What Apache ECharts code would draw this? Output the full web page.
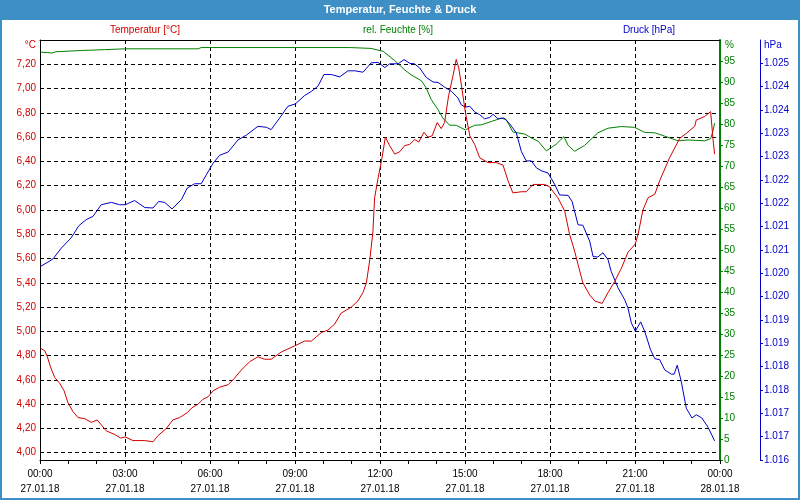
<!DOCTYPE html>
<html>
<head>
<meta charset="utf-8">
<script src="https://cdn.jsdelivr.net/npm/echarts@6/dist/echarts.min.js"></script>
<style>html,body{margin:0;padding:0;background:#fff}#c{width:800px;height:500px}</style>
</head>
<body>
<div id="c"></div>
<script>
// ---- data (hours since 27.01.18 00:00) ----
const tempHours = [0.02,0.17,0.26,0.38,0.52,0.70,0.85,0.99,1.16,1.34,1.58,1.81,2.02,2.16,2.34,2.64,2.85,3.01,3.28,3.70,3.99,4.16,4.46,4.69,4.93,5.20,5.36,5.58,5.75,5.93,6.11,6.34,6.64,6.85,7.10,7.40,7.69,7.93,8.16,8.52,8.99,9.34,9.58,9.93,10.16,10.40,10.63,10.99,11.22,11.40,11.52,11.64,11.75,11.81,11.93,12.05,12.19,12.34,12.52,12.70,12.87,13.05,13.22,13.37,13.55,13.69,13.84,14.02,14.16,14.28,14.42,14.58,14.69,14.78,14.89,15.01,15.17,15.34,15.52,15.81,16.10,16.34,16.52,16.69,16.99,17.16,17.40,17.81,17.99,18.11,18.28,18.52,18.69,18.87,18.99,19.16,19.40,19.58,19.84,20.05,20.28,20.52,20.75,21.01,21.11,21.28,21.46,21.70,21.87,22.22,22.58,22.81,23.11,23.16,23.46,23.67,23.75,23.81];
const tempValues = [4.86,4.84,4.79,4.70,4.62,4.57,4.51,4.41,4.34,4.29,4.28,4.25,4.27,4.23,4.18,4.15,4.12,4.13,4.10,4.10,4.09,4.14,4.20,4.27,4.29,4.33,4.37,4.40,4.44,4.46,4.51,4.54,4.56,4.61,4.68,4.75,4.79,4.77,4.77,4.83,4.88,4.92,4.92,4.99,5.01,5.06,5.15,5.20,5.25,5.32,5.40,5.59,5.82,6.10,6.26,6.40,6.60,6.53,6.46,6.48,6.53,6.54,6.58,6.56,6.64,6.60,6.61,6.72,6.67,6.72,6.94,7.11,7.24,7.17,7.00,6.81,6.61,6.54,6.43,6.39,6.39,6.37,6.24,6.14,6.15,6.15,6.21,6.21,6.19,6.15,6.10,5.99,5.80,5.66,5.55,5.40,5.30,5.25,5.23,5.32,5.41,5.52,5.65,5.72,5.80,6.00,6.10,6.13,6.24,6.43,6.59,6.63,6.69,6.74,6.77,6.81,6.59,6.46];

const humHours = [0.02,0.28,0.42,0.56,1.46,2.28,2.99,5.58,5.69,10.93,10.99,11.68,12.11,12.17,12.52,12.87,13.10,13.46,13.63,13.81,14.05,14.22,14.46,14.69,15.01,15.34,15.58,15.93,16.28,16.46,16.69,17.11,17.34,17.58,17.87,18.11,18.22,18.49,18.64,18.87,19.22,19.69,20.05,20.52,20.99,21.34,21.70,22.05,22.52,22.87,23.46,23.67,23.75,23.81];
const humValues = [97.1,97.0,96.9,97.2,97.5,97.7,97.9,97.9,98.2,98.2,97.9,98.0,97.3,96.9,95.1,92.9,91.7,90.3,88.6,85.8,83.4,81.4,79.7,79.7,78.6,79.7,79.8,80.6,81.4,81.0,78.1,77.6,76.7,75.9,73.6,74.7,75.2,77.0,74.9,73.5,74.9,77.9,79.0,79.4,79.2,78.0,77.9,77.1,76.0,76.2,76.0,76.5,78.3,80.2];

const presHours = [0.02,0.28,0.46,0.75,1.10,1.37,1.63,1.87,2.16,2.52,2.81,3.01,3.34,3.70,3.99,4.19,4.40,4.66,4.99,5.20,5.46,5.69,5.87,6.11,6.34,6.64,6.99,7.28,7.69,7.99,8.16,8.46,8.75,9.01,9.34,9.58,9.81,10.02,10.28,10.58,10.87,11.11,11.40,11.69,11.93,12.17,12.34,12.64,12.85,13.05,13.22,13.40,13.63,13.87,14.05,14.28,14.52,14.75,14.87,15.01,15.17,15.34,15.52,15.69,15.87,15.99,16.16,16.38,16.58,16.81,16.99,17.16,17.34,17.52,17.69,17.93,18.17,18.34,18.64,18.78,18.99,19.16,19.40,19.52,19.69,19.87,20.05,20.16,20.40,20.64,20.75,20.87,21.01,21.20,21.34,21.55,21.70,21.87,22.05,22.28,22.38,22.49,22.63,22.81,23.01,23.16,23.36,23.58,23.81];
const presValues = [1020.15,1020.24,1020.31,1020.54,1020.76,1021.02,1021.15,1021.22,1021.47,1021.52,1021.47,1021.47,1021.56,1021.41,1021.40,1021.54,1021.52,1021.38,1021.58,1021.83,1021.92,1021.92,1022.11,1022.36,1022.53,1022.60,1022.86,1022.96,1023.15,1023.13,1023.08,1023.33,1023.58,1023.63,1023.81,1023.90,1024.01,1024.26,1024.26,1024.21,1024.34,1024.34,1024.31,1024.51,1024.52,1024.41,1024.49,1024.49,1024.58,1024.50,1024.49,1024.40,1024.20,1024.10,1024.09,1023.99,1023.90,1023.76,1023.61,1023.56,1023.58,1023.46,1023.40,1023.31,1023.34,1023.41,1023.31,1023.33,1023.20,1023.01,1022.61,1022.41,1022.41,1022.26,1022.20,1022.15,1021.90,1021.68,1021.67,1021.54,1021.04,1021.03,1020.69,1020.36,1020.35,1020.44,1020.29,1020.04,1019.69,1019.43,1019.26,1018.94,1018.76,1018.96,1018.76,1018.36,1018.17,1018.15,1017.93,1017.84,1017.84,1018.03,1017.69,1017.11,1016.90,1016.97,1016.90,1016.70,1016.41];

const tempTicks = [4.0,4.2,4.4,4.6,4.8,5.0,5.2,5.4,5.6,5.8,6.0,6.2,6.4,6.6,6.8,7.0,7.2];
const dayLabels = ['27.01.18','28.01.18'];
const titleText = 'Temperatur, Feuchte & Druck';
const seriesNames = ['Temperatur [°C]','rel. Feuchte [%]','Druck [hPa]'];
const unitLabels = ['°C','%','hPa'];

const zip = (a,b) => a.map((x,i) => [x,b[i]]);
const RED = '#d10000', GREEN = '#008000', BLUE = '#0000c8';
const FONT = 'Liberation Sans';

const chart = echarts.init(document.getElementById('c'), null, {renderer:'canvas'});
chart.setOption({
  animation: false,
  backgroundColor: '#fff',
  textStyle: {fontFamily: FONT},
  grid: {left: 40, right: 80, top: 40, bottom: 40, containLabel: false},
  xAxis: [{
    type: 'value', min: 0, max: 24, interval: 3,
    axisLine: {lineStyle: {color: '#000', width: 1}},
    axisTick: {show: true, length: 4, lineStyle: {color: '#000'}},
    minorTick: {show: true, splitNumber: 3, length: 4, lineStyle: {color: '#000'}},
    splitLine: {show: true, lineStyle: {color: '#000', type: [4,3], width: 1}},
    axisLabel: {
      color: '#000', fontSize: 10, fontFamily: FONT, margin: 7, lineHeight: 15,
      formatter: v => {
        const h = v % 24;
        return String(h).padStart(2,'0') + ':00\n' + (v < 24 ? dayLabels[0] : dayLabels[1]);
      }
    }
  }, {
    type: 'value', position: 'top', min: 0, max: 24,
    axisLine: {show: true, onZero: false, lineStyle: {color: '#000', width: 1}},
    axisTick: {show: false}, axisLabel: {show: false}, splitLine: {show: false}
  }],
  yAxis: [{
    type: 'value', position: 'left', min: 3.94, max: 7.40,
    axisLine: {show: true, onZero: false, lineStyle: {color: '#000', width: 1}},
    axisTick: {show: false, customValues: tempTicks},
    splitLine: {show: true, lineStyle: {color: '#000', type: [4,3], width: 1}},
    axisLabel: {
      customValues: tempTicks, color: RED, fontSize: 10, fontFamily: FONT, margin: 4,
      formatter: v => v.toFixed(2).replace('.', ',')
    }
  }, {
    type: 'value', position: 'right', min: 0, max: 100, interval: 5,
    axisLine: {show: true, onZero: false, lineStyle: {color: GREEN, width: 2}},
    axisTick: {show: true, length: 3, lineStyle: {color: GREEN}},
    splitLine: {show: false},
    axisLabel: {color: GREEN, fontSize: 10, fontFamily: FONT, margin: 4, showMaxLabel: false}
  }, {
    type: 'value', position: 'right', offset: 40, min: 1016, max: 1025, interval: 0.5,
    axisLine: {show: true, onZero: false, lineStyle: {color: BLUE, width: 1}},
    axisTick: {show: true, length: 3, lineStyle: {color: BLUE}},
    splitLine: {show: false},
    axisLabel: {color: BLUE, fontSize: 10, fontFamily: FONT, margin: 4, showMaxLabel: false,
      formatter: v => (Math.round(v) / 1000).toFixed(3)}
  }],
  graphic: [
    {type: 'rect', shape: {x: 0, y: 0, width: 800, height: 20}, style: {fill: '#3d8fc5'}, z: 10},
    {type: 'rect', shape: {x: 1, y: 1, width: 798, height: 498}, style: {fill: 'none', stroke: '#3d8fc5', lineWidth: 2}, z: 10},
    {type: 'text', x: 400, y: 10, style: {text: titleText, fill: '#fff', font: 'bold 11px "Liberation Sans"', textAlign: 'center', textVerticalAlign: 'middle'}, z: 11},
    {type: 'text', x: 145, y: 30, style: {text: seriesNames[0], fill: RED, font: '10px "Liberation Sans"', textAlign: 'center', textVerticalAlign: 'middle'}},
    {type: 'text', x: 398, y: 30, style: {text: seriesNames[1], fill: GREEN, font: '10px "Liberation Sans"', textAlign: 'center', textVerticalAlign: 'middle'}},
    {type: 'text', x: 649, y: 30, style: {text: seriesNames[2], fill: BLUE, font: '10px "Liberation Sans"', textAlign: 'center', textVerticalAlign: 'middle'}},
    {type: 'text', x: 36, y: 45, style: {text: unitLabels[0], fill: RED, font: '10px "Liberation Sans"', textAlign: 'right', textVerticalAlign: 'middle'}},
    {type: 'text', x: 725, y: 45, style: {text: unitLabels[1], fill: GREEN, font: '10px "Liberation Sans"', textAlign: 'left', textVerticalAlign: 'middle'}},
    {type: 'text', x: 764, y: 45, style: {text: unitLabels[2], fill: BLUE, font: '10px "Liberation Sans"', textAlign: 'left', textVerticalAlign: 'middle'}}
  ],
  series: [
    {name: seriesNames[1], type: 'line', xAxisIndex: 0, yAxisIndex: 1, data: zip(humHours, humValues), showSymbol: false, symbol: 'none', lineStyle: {color: GREEN, width: 1}, z: 3},
    {name: seriesNames[2], type: 'line', xAxisIndex: 0, yAxisIndex: 2, data: zip(presHours, presValues), showSymbol: false, symbol: 'none', lineStyle: {color: BLUE, width: 1}, z: 4},
    {name: seriesNames[0], type: 'line', xAxisIndex: 0, yAxisIndex: 0, data: zip(tempHours, tempValues), showSymbol: false, symbol: 'none', lineStyle: {color: RED, width: 1}, z: 5}
  ]
});
</script>
</body>
</html>
